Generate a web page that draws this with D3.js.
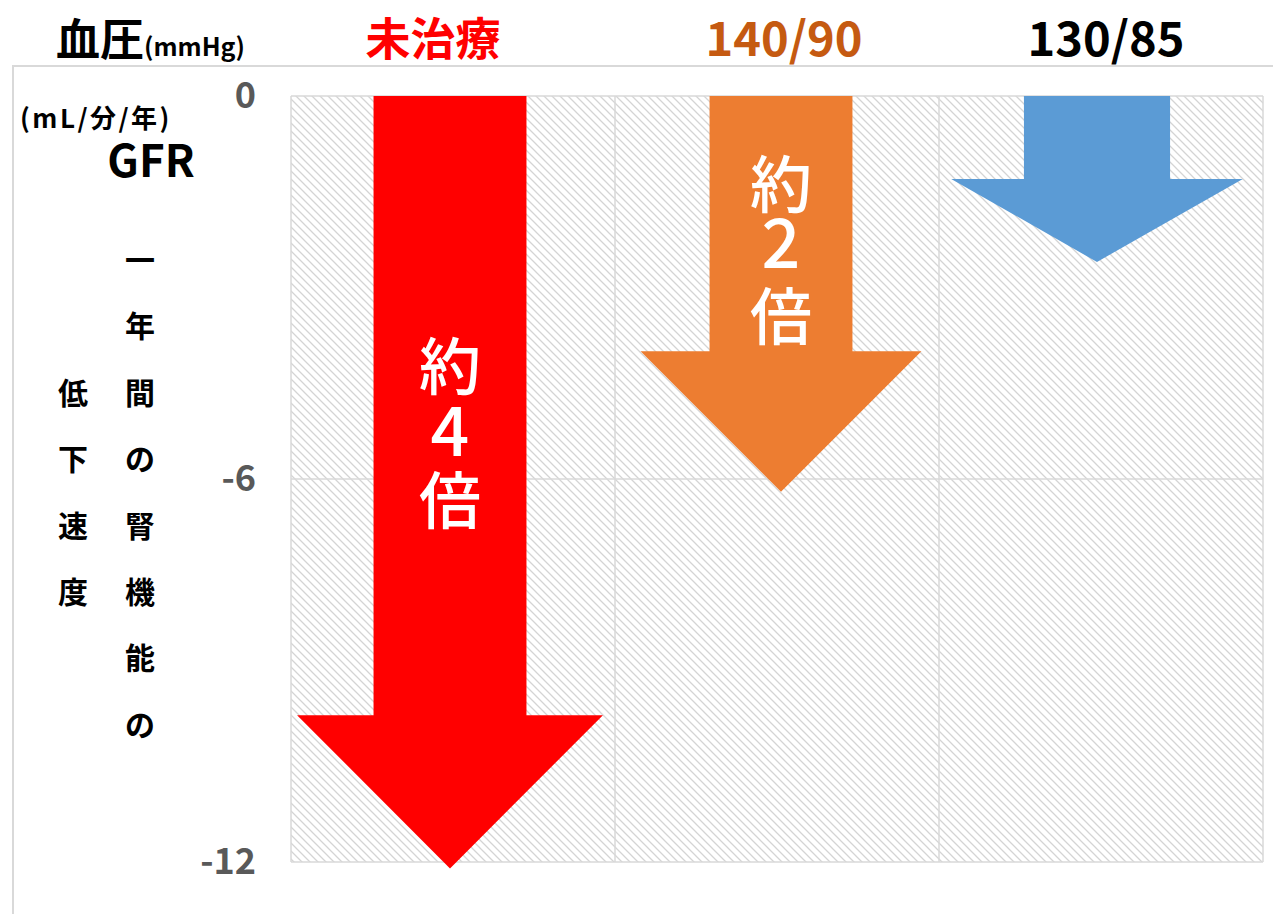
<!DOCTYPE html>
<html>
<head>
<meta charset="utf-8">
<script src="https://cdn.jsdelivr.net/npm/d3@7"></script>
<style>
  body { margin: 0; background: #fff; }
  svg text { font-family: "Noto Sans CJK JP", "Noto Sans", sans-serif; }
</style>
</head>
<body>
<div id="chart"></div>
<script>
// data
const categories = ["未治療", "140/90", "130/85"];
const declineValues = [-12.1, -6.2, -2.6];     // arrow tip (mL/分/年)
const headStart = [-9.7, -4.0, -1.3];           // where arrow head begins
const arrowLabels = [["約", "4", "倍"], ["約", "2", "倍"], null];
const labelBaseline = [-4.6, -1.75, null];      // first line of the label
const yTicks = [0, -6, -12];
const yTitleRight = ["一", "年", "間", "の", "腎", "機", "能", "の"];
const yTitleLeft = ["低", "下", "速", "度"];

// styles
const arrowColors = ["#FF0000", "#ED7D31", "#5B9BD5"];
const catColors = ["#FF0000", "#C55A11", "#000000"];
const catDx = [-20, 7, 5];
const shaftFrac = [0.472, 0.441, 0.451];
const headFrac = [0.944, 0.867, 0.90];
const arrowDx = [-3, 4, -4];
const labelLineGap = [[66, 68], [60, 72]];

const width = 1273;
const height = 914;
const margin = { left: 291, right: 10, top: 96, bottom: 52 };

const svg = d3.select("#chart")
  .append("svg")
  .attr("width", width)
  .attr("height", height);

// hatch pattern
const defs = svg.append("defs");
defs.append("pattern")
  .attr("id", "hatch")
  .attr("patternUnits", "userSpaceOnUse")
  .attr("width", 8)
  .attr("height", 8)
  .append("path")
  .attr("d", "M0,0L8,8M-4,4L4,12M4,-4L12,4")
  .attr("stroke", "#d4d4d4")
  .attr("stroke-width", 1.3);

// outer frame (only top and left visible)
svg.append("rect")
  .attr("x", 13).attr("y", 66)
  .attr("width", width + 20).attr("height", height + 20)
  .attr("fill", "none")
  .attr("stroke", "#d9d9d9")
  .attr("stroke-width", 2);

const x = d3.scaleBand()
  .domain(categories)
  .range([margin.left, width - margin.right])
  .padding(0);

const y = d3.scaleLinear()
  .domain([0, -12])
  .range([margin.top, height - margin.bottom]);

// plot background
svg.append("rect")
  .attr("x", margin.left)
  .attr("y", margin.top)
  .attr("width", width - margin.right - margin.left)
  .attr("height", y(-12) - y(0))
  .attr("fill", "url(#hatch)");

// gridlines
svg.append("g")
  .selectAll("line")
  .data(yTicks)
  .join("line")
  .attr("x1", margin.left)
  .attr("x2", width - margin.right)
  .attr("y1", d => y(d))
  .attr("y2", d => y(d))
  .attr("stroke", "#d9d9d9")
  .attr("stroke-width", 1.5);

svg.append("g")
  .selectAll("line")
  .data([...categories.map(c => x(c)), x(categories[2]) + x.bandwidth()])
  .join("line")
  .attr("x1", d => d)
  .attr("x2", d => d)
  .attr("y1", y(0))
  .attr("y2", y(-12))
  .attr("stroke", "#d9d9d9")
  .attr("stroke-width", 1.5);

// y axis tick labels
const yAxis = d3.axisLeft(y)
  .tickValues(yTicks)
  .tickFormat(d => String(d))
  .tickSize(0)
  .tickPadding(35);
const yAxisG = svg.append("g")
  .attr("transform", `translate(${margin.left}, 0)`)
  .call(yAxis);
yAxisG.select(".domain").remove();
yAxisG.selectAll("text")
  .attr("fill", "#595959")
  .attr("font-size", 36)
  .attr("font-weight", 700)
  .attr("font-family", "'Noto Sans CJK JP', sans-serif");

// arrows
const arrows = categories.map((c, i) => {
  const cx = x(c) + x.bandwidth() / 2 + arrowDx[i];
  const sw = x.bandwidth() * shaftFrac[i] / 2;
  const hw = x.bandwidth() * headFrac[i] / 2;
  const y0 = y(0), yh = y(headStart[i]), yt = y(declineValues[i]);
  return [
    [cx - sw, y0], [cx + sw, y0], [cx + sw, yh], [cx + hw, yh],
    [cx, yt], [cx - hw, yh], [cx - sw, yh]
  ];
});

svg.append("g")
  .selectAll("path")
  .data(arrows)
  .join("path")
  .attr("d", d => d3.line()(d) + "Z")
  .attr("fill", (d, i) => arrowColors[i]);

// arrow labels
categories.forEach((c, i) => {
  if (!arrowLabels[i]) return;
  const cx = x(c) + x.bandwidth() / 2 + arrowDx[i];
  const gaps = labelLineGap[i];
  const offs = [0, gaps[0], gaps[0] + gaps[1]];
  svg.append("g")
    .selectAll("text")
    .data(arrowLabels[i])
    .join("text")
    .attr("x", cx)
    .attr("y", (d, j) => y(labelBaseline[i]) + offs[j])
    .attr("text-anchor", "middle")
    .attr("fill", "#fff")
    .attr("font-size", (d, j) => j === 1 ? 68 : 62)
    .attr("font-weight", 500)
    .text(d => d);
});

// category labels on top
svg.append("g")
  .selectAll("text")
  .data(categories)
  .join("text")
  .attr("x", (d, i) => x(d) + x.bandwidth() / 2 + catDx[i])
  .attr("y", 56)
  .attr("text-anchor", "middle")
  .attr("fill", (d, i) => catColors[i])
  .attr("font-size", (d, i) => i === 0 ? 45 : 47)
  .attr("font-weight", 700)
  .text(d => d);

// 血圧 (mmHg)
const bp = svg.append("text")
  .attr("x", 56)
  .attr("y", 56)
  .attr("font-weight", 700)
  .attr("fill", "#000");
bp.append("tspan").attr("font-size", 44).text("血圧");
bp.append("tspan").attr("font-size", 25).text("(mmHg)");

// y axis title
svg.append("text")
  .attr("x", 20)
  .attr("y", 128)
  .attr("font-size", 26)
  .attr("font-weight", 700)
  .attr("letter-spacing", 2.5)
  .text("(mL/分/年)");

svg.append("text")
  .attr("x", 151)
  .attr("y", 177)
  .attr("text-anchor", "middle")
  .attr("font-size", 44)
  .attr("font-weight", 700)
  .text("GFR");

svg.append("g")
  .selectAll("text")
  .data(yTitleRight)
  .join("text")
  .attr("x", 140)
  .attr("y", (d, i) => 258 + i * 66.4)
  .attr("dominant-baseline", "central")
  .attr("text-anchor", "middle")
  .attr("font-size", 30)
  .attr("font-weight", 700)
  .text(d => d);

svg.append("g")
  .selectAll("text")
  .data(yTitleLeft)
  .join("text")
  .attr("x", 73)
  .attr("y", (d, i) => 391 + i * 66.4)
  .attr("dominant-baseline", "central")
  .attr("text-anchor", "middle")
  .attr("font-size", 30)
  .attr("font-weight", 700)
  .text(d => d);
</script>
</body>
</html>
